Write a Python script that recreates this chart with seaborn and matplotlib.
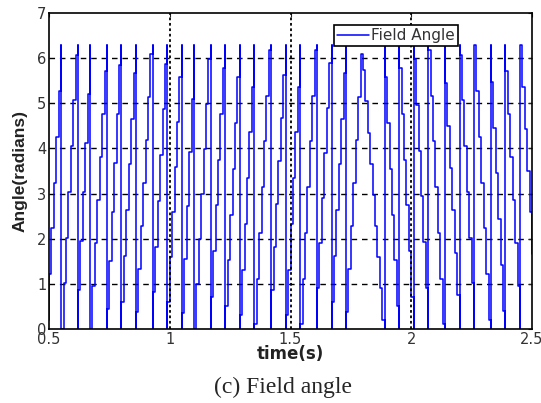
import numpy as np
import pandas as pd
import seaborn as sns
import matplotlib.pyplot as plt

# Wrap instants (s): angle climbs 0 -> 2pi between rising wraps,
# then after the reversal it falls 2pi -> 0 between falling wraps
rise_wraps = [0.426, 0.488, 0.550, 0.612, 0.670, 0.736, 0.794, 0.856, 0.922, 0.984,
              1.047, 1.100, 1.163, 1.225, 1.287, 1.349, 1.411, 1.477, 1.539, 1.601,
              1.664, 1.726, 1.792]
fall_wraps = [1.883, 1.945, 2.007, 2.069, 2.131, 2.198, 2.260, 2.322, 2.384, 2.450, 2.518]
hold_dt = 0.01          # controller sample time seen as the staircase steps
t_start, t_end = 0.43, 2.5

x_ticks = [0.5, 1, 1.5, 2, 2.5]
x_tick_labels = ['0.5', '1', '1.5', '2', '2.5']
y_ticks = [0, 1, 2, 3, 4, 5, 6, 7]

# Turn count at every wrap instant, then sample-and-hold the wrapped angle
knot_t = rise_wraps + fall_wraps
n_rise = len(rise_wraps)
knot_turns = list(range(n_rise)) + [n_rise - 2 - i for i in range(len(fall_wraps))]
t_s = np.arange(t_start, t_end + 1e-9, hold_dt)
turns = np.interp(t_s, knot_t, knot_turns)
two_pi = 2 * np.pi

xs, ys = [], []
for k, t in enumerate(t_s):
    val = (turns[k] % 1) * two_pi
    if k > 0:
        prev = (turns[k - 1] % 1) * two_pi
        xs.append(t); ys.append(prev)
        if np.floor(turns[k]) > np.floor(turns[k - 1]):
            xs += [t, t]; ys += [two_pi, 0.0]
        elif np.floor(turns[k]) < np.floor(turns[k - 1]):
            xs += [t, t]; ys += [0.0, two_pi]
    xs.append(t); ys.append(val)
xs.append(t_end); ys.append(ys[-1])

df = pd.DataFrame({'time': xs, 'angle': ys, 'series': 'Field Angle'})

sns.set_style('white')
plt.rcParams['font.family'] = ['DejaVu Sans']

fig = plt.figure(figsize=(5.41, 4.03), dpi=100)
ax = fig.add_axes([0.0906, 0.1836, 0.8928, 0.7841])

sns.lineplot(data=df, x='time', y='angle', hue='series', palette=['#0000ff'],
             sort=False, estimator=None, linewidth=1.1, ax=ax)

ax.set_xlim(0.5, 2.5)
ax.set_ylim(0, 7)
ax.set_xticks(x_ticks)
ax.set_xticklabels(x_tick_labels)
ax.set_yticks(y_ticks)

# MATLAB-like grid: dashed horizontals, dotted verticals
for yv in y_ticks[1:-1]:
    ax.axhline(yv, color='black', linestyle=(0, (4, 3.5)), linewidth=1.0, zorder=0)
for xv in x_ticks[1:-1]:
    ax.axvline(xv, color='black', linestyle=(0, (1.5, 1.5)), linewidth=1.3, zorder=3)

for s in ax.spines.values():
    s.set_color('black')
    s.set_linewidth(1.2)
ax.tick_params(direction='in', length=3, width=0.8, top=True, right=True,
               labelsize=10.5, labelcolor='#333333', pad=2)

ax.set_xlabel('time(s)', fontsize=12, fontweight='bold', color='#222222', labelpad=-1)
ax.set_ylabel('Angle(radians)', fontsize=12.5, fontweight='bold', color='#222222',
              labelpad=7, family=['Liberation Sans', 'DejaVu Sans'])

leg = ax.legend(loc='upper right', bbox_to_anchor=(0.847, 0.962), frameon=True,
                fancybox=False, fontsize=11, handlelength=2.1, borderpad=0.2,
                borderaxespad=0, handletextpad=0.15)
leg.get_frame().set_edgecolor('black')
leg.get_frame().set_linewidth(1.2)
leg.get_frame().set_alpha(1)
for txt in leg.get_texts():
    txt.set_color('#333333')

fig.text(0.523, 0.038, '(c) Field angle', ha='center', va='center', fontsize=17,
         family=['Liberation Serif', 'DejaVu Serif'])

fig.savefig('out.png', dpi=100)
